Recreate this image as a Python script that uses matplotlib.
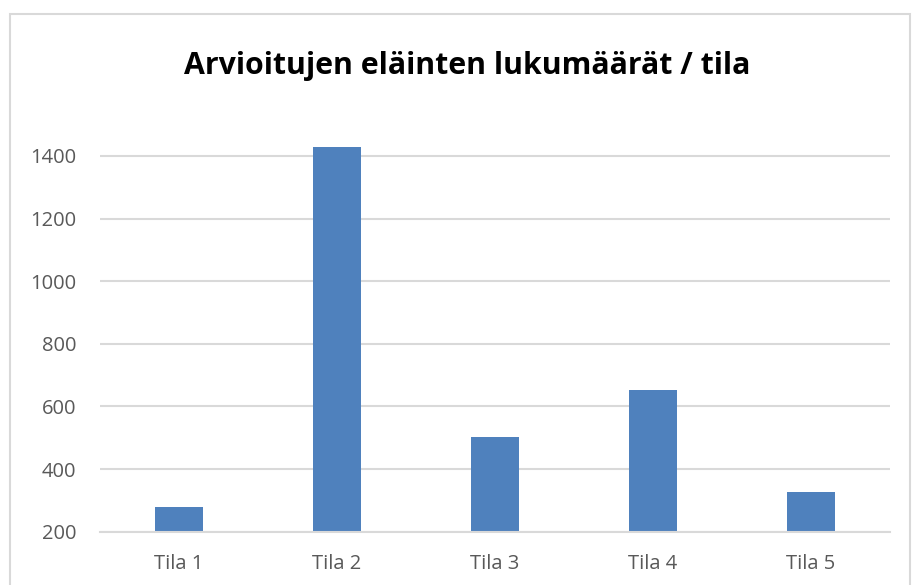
import matplotlib.pyplot as plt
from matplotlib.patches import Rectangle

categories = ["Tila 1", "Tila 2", "Tila 3", "Tila 4", "Tila 5"]
counts = [280, 1430, 504, 653, 327]
y_ticks = [200, 400, 600, 800, 1000, 1200, 1400]

plt.rcParams["font.family"] = ["Open Sans", "DejaVu Sans"]

fig = plt.figure(figsize=(9.13, 5.85), dpi=100)
ax = fig.add_axes([100 / 913, 53.3 / 585, 790 / 913, 391.4 / 585])

# chart border like in the spreadsheet export
fig.patches.append(Rectangle((10 / 913, -0.1), 900 / 913, 1.1 - 14 / 585,
                             transform=fig.transFigure, fill=False,
                             edgecolor="#d9d9d9", linewidth=1.5))

x = range(len(categories))
ax.bar(x, counts, width=0.31, color="#4f81bd", zorder=3)

ax.set_xlim(-0.5, len(categories) - 0.5)
ax.set_ylim(200, 1450)
ax.set_yticks(y_ticks)
ax.set_xticks(list(x))
ax.set_xticklabels(categories)

ax.grid(axis="y", color="#d9d9d9", linewidth=1.5, zorder=0)
for side in ["top", "right", "left"]:
    ax.spines[side].set_visible(False)
ax.spines["bottom"].set_color("#d9d9d9")
ax.spines["bottom"].set_linewidth(1.5)
ax.spines["bottom"].set_zorder(4)
ax.tick_params(axis="both", length=0, labelsize=14.5, colors="#595959")
ax.tick_params(axis="y", pad=17)
ax.tick_params(axis="x", pad=16)

fig.text(467.5 / 913, 1 - 66 / 585, "Arvioitujen eläinten lukumäärät / tila",
         ha="center", va="center", fontsize=21.8, fontweight="bold",
         color="black")

fig.savefig("out.png", dpi=100)
